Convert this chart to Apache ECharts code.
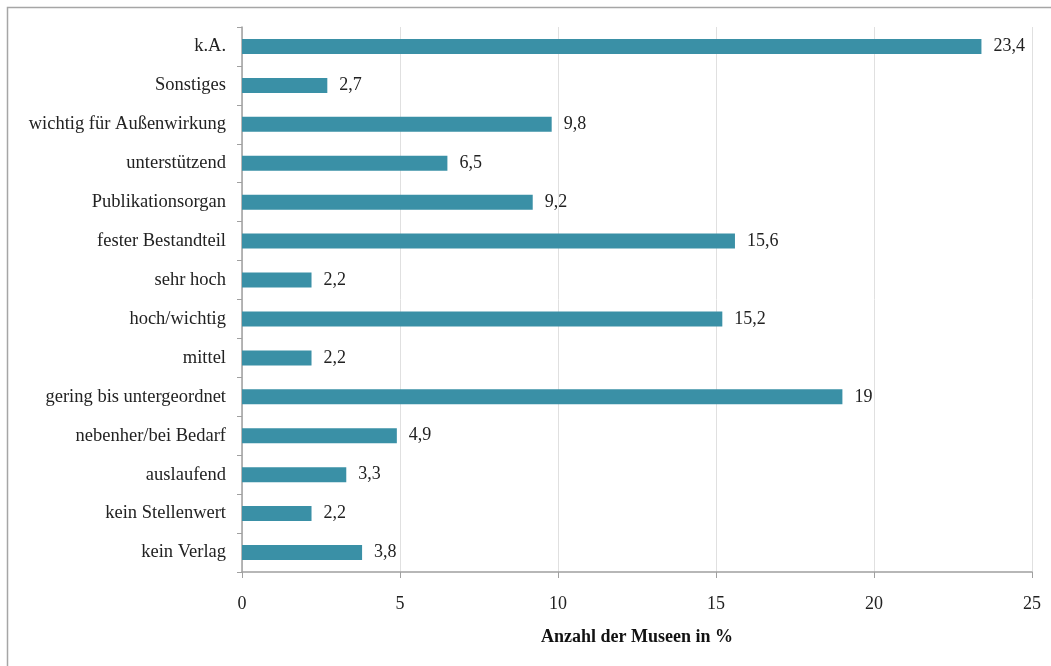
<!DOCTYPE html>
<html>
<head>
<meta charset="utf-8">
<script src="https://cdn.jsdelivr.net/npm/echarts@6/dist/echarts.min.js"></script>
<style>
html,body{margin:0;padding:0;background:#fff;}
#chart{width:1051px;height:666px;}
</style>
</head>
<body>
<div id="chart"></div>
<script>
const categories = ["kein Verlag","kein Stellenwert","auslaufend","nebenher/bei Bedarf","gering bis untergeordnet","mittel","hoch/wichtig","sehr hoch","fester Bestandteil","Publikationsorgan","unterstützend","wichtig für Außenwirkung","Sonstiges","k.A."];
const values = [3.8,2.2,3.3,4.9,19,2.2,15.2,2.2,15.6,9.2,6.5,9.8,2.7,23.4];
const xTicks = [0,5,10,15,20,25];
const axisTitle = "Anzahl der Museen in %";

const font = "'Liberation Serif', 'DejaVu Serif', serif";
const chart = echarts.init(document.getElementById('chart'));
chart.setOption({
  animation: false,
  textStyle: {fontFamily: font},
  graphic: [{
    type: 'rect',
    shape: {x: 7.5, y: 7.5, width: 1200, height: 800},
    style: {fill: 'none', stroke: '#a6a6a6', lineWidth: 1.5},
    silent: true
  }],
  grid: {left: 242, right: 19, top: 27, bottom: 94},
  xAxis: {
    type: 'value', min: xTicks[0], max: xTicks[xTicks.length-1], interval: 5,
    name: axisTitle, nameLocation: 'middle', nameGap: 56,
    nameTextStyle: {fontFamily: font, fontSize: 18, fontWeight: 'bold', color: '#111'},
    axisLine: {show: true, lineStyle: {color: '#a0a0a0', width: 1.5}},
    axisTick: {show: true, length: 6, lineStyle: {color: '#a0a0a0'}},
    axisLabel: {fontFamily: font, fontSize: 18, color: '#222', margin: 23},
    splitLine: {show: true, lineStyle: {color: '#e0e0e0'}}
  },
  yAxis: {
    type: 'category', data: categories,
    axisLine: {show: true, lineStyle: {color: '#a0a0a0', width: 1.5}},
    axisTick: {show: true, length: 5, lineStyle: {color: '#a0a0a0'}},
    axisLabel: {fontFamily: font, fontSize: 18.5, color: '#222', margin: 16}
  },
  series: [{
    type: 'bar', data: values, barWidth: 15,
    itemStyle: {color: '#3a90a6'},
    label: {
      show: true, position: 'right', distance: 12,
      fontFamily: font, fontSize: 18, color: '#222',
      formatter: p => String(p.value).replace('.', ',')
    }
  }]
});
</script>
</body>
</html>
